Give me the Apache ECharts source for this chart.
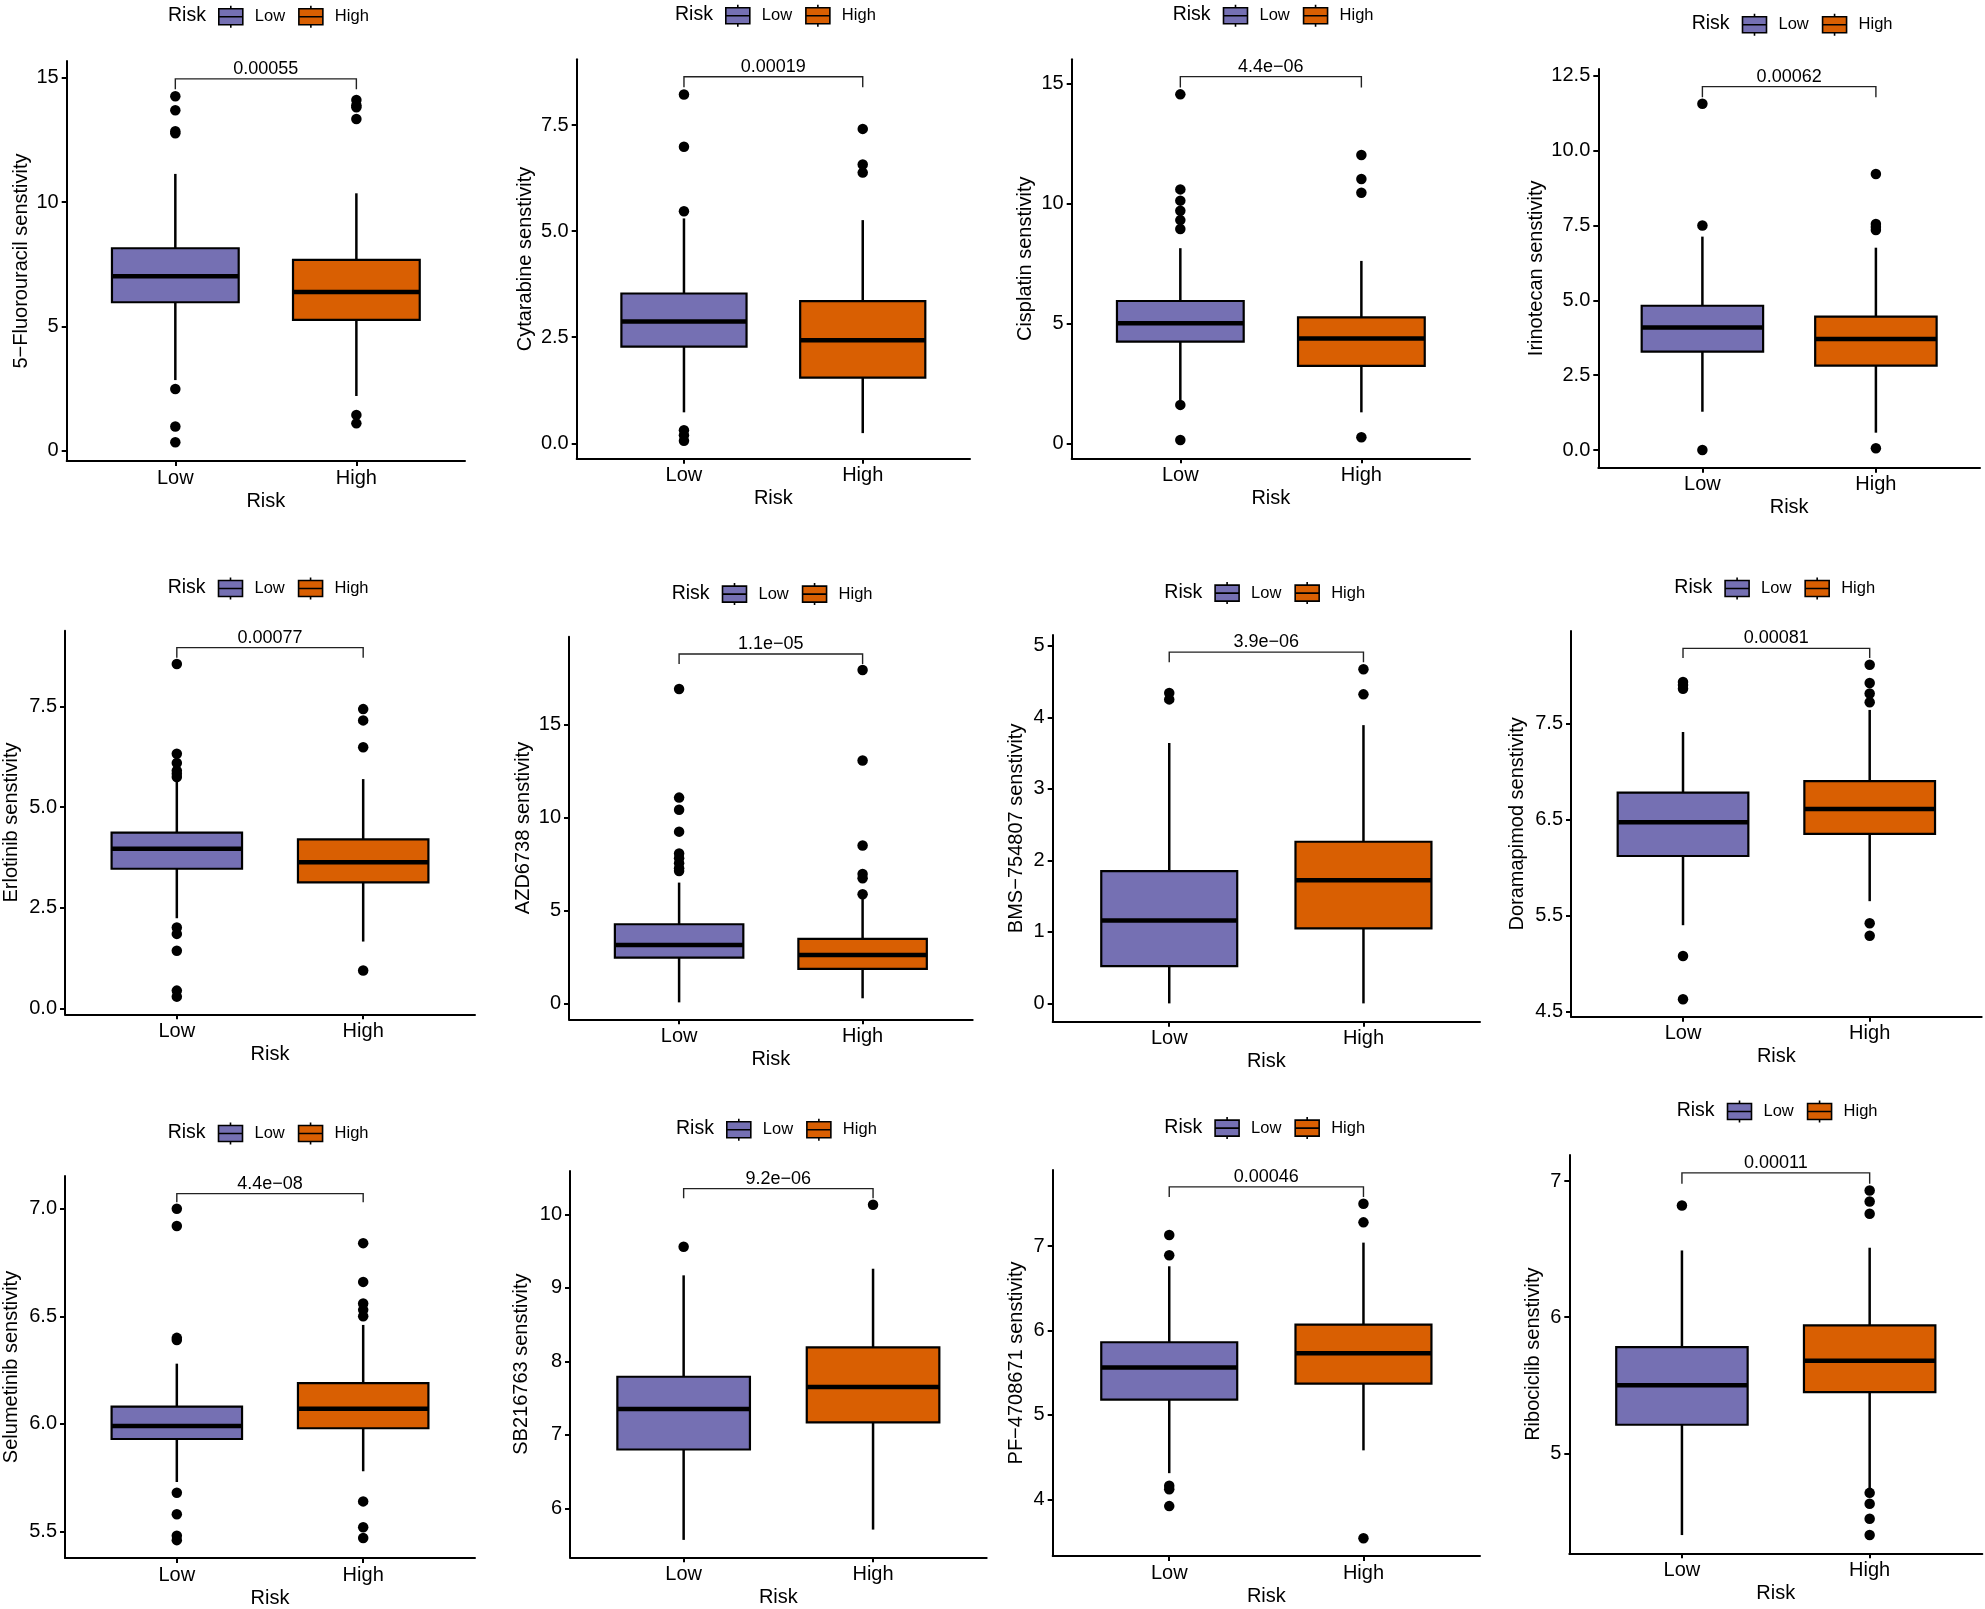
<!DOCTYPE html>
<html>
<head>
<meta charset="utf-8">
<title>Drug sensitivity by risk group</title>
<script src="https://cdn.jsdelivr.net/npm/echarts@6.0.0/dist/echarts.min.js"></script>
<style>
  html, body { margin: 0; padding: 0; background: #fff; }
  #main { width: 1985px; height: 1609px; }
</style>
</head>
<body>
<div id="main"></div>
<script>
// ---- data ----
var riskGroups = ['Low', 'High'];

var drugNames = [
  '5\u2212Fluorouracil senstivity', 'Cytarabine senstivity', 'Cisplatin senstivity', 'Irinotecan senstivity',
  'Erlotinib senstivity', 'AZD6738 senstivity', 'BMS\u2212754807 senstivity', 'Doramapimod senstivity',
  'Selumetinib senstivity', 'SB216763 senstivity', 'PF\u22124708671 senstivity', 'Ribociclib senstivity'
];

var pValues = ['0.00055', '0.00019', '4.4e\u221206', '0.00062', '0.00077', '1.1e\u221205',
  '3.9e\u221206', '0.00081', '4.4e\u221208', '9.2e\u221206', '0.00046', '0.00011'];

// [lower whisker, Q1, median, Q3, upper whisker]
var lowBox = [
  [2.84, 5.97, 7.01, 8.14, 11.13],
  [0.73, 2.28, 2.87, 3.53, 5.30],
  [1.80, 4.24, 5.00, 5.93, 8.13],
  [1.28, 3.29, 4.09, 4.82, 7.13],
  [2.24, 3.47, 3.97, 4.37, 5.64],
  [0.05, 2.46, 3.14, 4.25, 6.49],
  [0.00, 0.52, 1.16, 1.85, 3.64],
  [5.40, 6.12, 6.47, 6.78, 7.41],
  [5.73, 5.93, 5.99, 6.08, 6.28],
  [5.57, 6.80, 7.35, 7.79, 9.17],
  [4.31, 5.18, 5.56, 5.86, 6.76],
  [4.40, 5.21, 5.50, 5.78, 6.49]
];
var highBox = [
  [2.20, 5.26, 6.38, 7.67, 10.35],
  [0.24, 1.55, 2.43, 3.35, 5.26],
  [1.29, 3.23, 4.37, 5.25, 7.60],
  [0.58, 2.82, 3.71, 4.46, 6.76],
  [1.66, 3.13, 3.63, 4.20, 5.70],
  [0.27, 1.85, 2.60, 3.46, 5.82],
  [0.00, 1.05, 1.72, 2.26, 3.89],
  [5.65, 6.35, 6.61, 6.90, 7.64],
  [5.78, 5.98, 6.07, 6.19, 6.46],
  [5.71, 7.17, 7.65, 8.19, 9.26],
  [4.58, 5.37, 5.73, 6.07, 7.04],
  [4.74, 5.45, 5.68, 5.94, 6.51]
];

var lowOutliers = [
  [14.25, 13.69, 12.85, 12.76, 2.48, 0.97, 0.34],
  [8.22, 6.99, 5.47, 0.31, 0.19, 0.06],
  [14.54, 10.58, 10.11, 9.69, 9.30, 8.93, 1.60, 0.14],
  [11.57, 7.50, 0.00],
  [8.56, 6.33, 6.10, 5.91, 5.83, 5.75, 2.01, 1.85, 1.43, 0.44, 0.29],
  [16.90, 11.06, 10.41, 9.23, 8.06, 7.80, 7.53, 7.26, 7.11],
  [4.34, 4.25],
  [7.93, 7.90, 7.86, 5.08, 4.63],
  [7.00, 6.92, 6.40, 6.39, 5.68, 5.58, 5.48, 5.46],
  [9.56],
  [7.13, 6.89, 4.16, 4.12, 3.92],
  [6.82]
];
var highOutliers = [
  [14.10, 13.89, 13.81, 13.34, 1.44, 1.10],
  [7.41, 6.57, 6.38],
  [12.01, 11.01, 10.44, 0.25],
  [9.22, 7.55, 7.45, 7.35, 0.06],
  [7.44, 7.16, 6.49, 0.94],
  [17.92, 13.05, 8.48, 6.95, 6.72, 5.86],
  [4.67, 4.32],
  [8.11, 7.92, 7.81, 7.72, 5.42, 5.29],
  [6.84, 6.66, 6.56, 6.53, 6.50, 5.64, 5.52, 5.47],
  [10.13],
  [7.50, 7.28, 3.54],
  [6.93, 6.85, 6.76, 4.71, 4.63, 4.52, 4.40]
];

// comparison bracket: [bar level, end of the little legs]
var bracketLevels = [
  [14.95, 14.53], [8.64, 8.39], [15.28, 14.83], [12.14, 11.79],
  [8.97, 8.72], [18.78, 18.24], [4.91, 4.77], [8.28, 8.18],
  [7.07, 7.03], [10.35, 10.22], [7.70, 7.58], [7.06, 6.98]
];

var yTickLabels = [
  ['0', '5', '10', '15'],
  ['0.0', '2.5', '5.0', '7.5'],
  ['0', '5', '10', '15'],
  ['0.0', '2.5', '5.0', '7.5', '10.0', '12.5'],
  ['0.0', '2.5', '5.0', '7.5'],
  ['0', '5', '10', '15'],
  ['0', '1', '2', '3', '4', '5'],
  ['4.5', '5.5', '6.5', '7.5'],
  ['5.5', '6.0', '6.5', '7.0'],
  ['6', '7', '8', '9', '10'],
  ['4', '5', '6', '7'],
  ['5', '6', '7']
];

var yRanges = [
  [-0.414, 15.67], [-0.363, 9.05], [-0.625, 16.0], [-0.59, 12.73],
  [-0.149, 9.39], [-0.86, 19.71], [-0.256, 5.15], [4.448, 8.461],
  [5.377, 7.152], [5.333, 10.59], [3.329, 7.90], [4.266, 7.191]
];

// ---- layout (pixels) ----
// plot area: [left, top, right, bottom]
var plotBoxes = [
  [66.7, 61, 465, 461], [576.7, 59.3, 970, 458.7], [1071.7, 59.3, 1470, 458.3], [1598.3, 69, 1980, 467.7],
  [65, 630.7, 475, 1014.3], [569, 636.7, 972.7, 1019.3], [1052.7, 635, 1480, 1021.7], [1571, 631, 1981.7, 1016.7],
  [65, 1176, 475, 1561.7], [570, 1171, 986.7, 1557.3], [1052.7, 1170, 1480, 1556], [1569.3, 1155, 1982.3, 1553.3]
];
var yNameGaps = [45.7, 51.7, 46, 61.7, 53.3, 45.7, 36, 53.7, 53.3, 48.3, 36, 35.6];
// legend: [left of "Risk", vertical centre]
var legendSpots = [
  [168, 16], [675, 15], [1172.7, 15], [1691.7, 24],
  [167.7, 587.7], [671.7, 593.3], [1164.3, 592.3], [1674.3, 587.7],
  [167.7, 1132.7], [676, 1129], [1164.3, 1127.3], [1676.7, 1110.7]
];

var FONT = '"Liberation Sans", Arial, sans-serif';
var INK = '#000';
var colors = { Low: '#7570B3', High: '#D95F02' };
var BOX_WIDTH = 0.7;
var boxIcon = 'path://M0,3L24,3L24,19L0,19Z M0,11L24,11 M12,0L12,3 M12,19L12,22';

function renderBox(params, api) {
  var x = api.value(0);
  var lo = api.coord([x, api.value(1)]);
  var q1 = api.coord([x, api.value(2)]);
  var md = api.coord([x, api.value(3)]);
  var q3 = api.coord([x, api.value(4)]);
  var hi = api.coord([x, api.value(5)]);
  var half = api.size([BOX_WIDTH, 0])[0] / 2;
  var line = { stroke: INK, lineWidth: 2.5 };
  return {
    type: 'group',
    children: [
      { type: 'line', shape: { x1: hi[0], y1: hi[1], x2: q3[0], y2: q3[1] }, style: line },
      { type: 'line', shape: { x1: q1[0], y1: q1[1], x2: lo[0], y2: lo[1] }, style: line },
      { type: 'rect', shape: { x: q3[0] - half, y: q3[1], width: half * 2, height: q1[1] - q3[1] },
        style: { fill: api.visual('color'), stroke: INK, lineWidth: 2.2 } },
      { type: 'line', shape: { x1: md[0] - half, y1: md[1], x2: md[0] + half, y2: md[1] },
        style: { stroke: INK, lineWidth: 4.5 } }
    ]
  };
}

function bracketRenderer(label) {
  return function (params, api) {
    var a = api.coord([api.value(0), api.value(3)]);
    var b = api.coord([api.value(0), api.value(2)]);
    var c = api.coord([api.value(1), api.value(2)]);
    var d = api.coord([api.value(1), api.value(3)]);
    return {
      type: 'group',
      children: [
        { type: 'polyline', shape: { points: [a, b, c, d] },
          style: { stroke: '#222', lineWidth: 1.4, fill: null } },
        { type: 'text', x: (b[0] + c[0]) / 2, y: b[1] - 10,
          style: { text: label, fill: INK, fontSize: 18, fontFamily: FONT, align: 'center', verticalAlign: 'middle' } }
      ]
    };
  };
}

var option = {
  animation: false,
  backgroundColor: '#fff',
  textStyle: { fontFamily: FONT },
  title: [], legend: [], grid: [], xAxis: [], yAxis: [], series: []
};

drugNames.forEach(function (drug, i) {
  var pb = plotBoxes[i];
  var ticks = yTickLabels[i].map(parseFloat);
  var labels = yTickLabels[i];

  option.grid.push({ left: pb[0], top: pb[1], width: pb[2] - pb[0], height: pb[3] - pb[1], containLabel: false });

  option.xAxis.push({
    gridIndex: i, type: 'value', min: 0.4, max: 2.6,
    name: 'Risk', nameLocation: 'middle', nameGap: 40,
    nameTextStyle: { fontSize: 20, color: INK, verticalAlign: 'middle' },
    axisLine: { show: true, onZero: false, lineStyle: { color: INK, width: 2 } },
    axisTick: { show: true, customValues: [1, 2], length: 5, lineStyle: { color: INK, width: 2 } },
    axisLabel: { customValues: [1, 2], fontSize: 20, color: INK, margin: 7,
      formatter: function (v) { return riskGroups[Math.round(v) - 1]; } },
    splitLine: { show: false }
  });

  option.yAxis.push({
    gridIndex: i, type: 'value', min: yRanges[i][0], max: yRanges[i][1],
    name: drug, nameLocation: 'middle', nameGap: yNameGaps[i],
    nameTextStyle: { fontSize: 20, color: INK, verticalAlign: 'middle' },
    axisLine: { show: true, onZero: false, lineStyle: { color: INK, width: 2 } },
    axisTick: { show: true, customValues: ticks, length: 5, lineStyle: { color: INK, width: 2 } },
    axisLabel: { customValues: ticks, fontSize: 20, color: INK, margin: 8,
      formatter: function (v) {
        for (var k = 0; k < ticks.length; k++) if (Math.abs(ticks[k] - v) < 1e-9) return labels[k];
        return v;
      } },
    splitLine: { show: false }
  });

  // legend: "Risk" title + two box keys
  var ls = legendSpots[i];
  option.title.push({
    text: 'Risk', left: ls[0], top: ls[1] - 10, padding: 0,
    textStyle: { fontSize: 19.5, fontWeight: 'normal', color: INK, lineHeight: 20, fontFamily: FONT }
  });
  option.legend.push({
    left: ls[0] + 50, top: ls[1] - 11, padding: 0, orient: 'horizontal',
    itemWidth: 24, itemHeight: 22, itemGap: 13,
    itemStyle: { borderColor: INK, borderWidth: 1.6 },
    textStyle: { fontSize: 16.5, color: INK, rich: { g: { width: 7 } } },
    formatter: function (name) { return '{g|}' + name; },
    data: riskGroups.map(function (g) {
      return { name: g, icon: boxIcon, itemStyle: { color: colors[g] } };
    })
  });

  var boxes = [lowBox[i], highBox[i]];
  riskGroups.forEach(function (g, gi) {
    option.series.push({
      type: 'custom', name: g, xAxisIndex: i, yAxisIndex: i,
      itemStyle: { color: colors[g] },
      encode: { x: 0, y: [1, 2, 3, 4, 5] },
      data: [[gi + 1].concat(boxes[gi])],
      renderItem: renderBox, z: 2
    });
  });

  var dots = lowOutliers[i].map(function (v) { return [1, v]; })
    .concat(highOutliers[i].map(function (v) { return [2, v]; }));
  option.series.push({
    type: 'scatter', name: 'outliers', xAxisIndex: i, yAxisIndex: i,
    symbolSize: 10.5, itemStyle: { color: '#000', opacity: 1 }, data: dots, z: 3, silent: true
  });

  option.series.push({
    type: 'custom', name: 'p', xAxisIndex: i, yAxisIndex: i, silent: true,
    encode: { x: [0, 1], y: [2, 3] },
    data: [[1, 2, bracketLevels[i][0], bracketLevels[i][1]]],
    renderItem: bracketRenderer(pValues[i]), z: 4
  });
});

var chart = echarts.init(document.getElementById('main'));
chart.setOption(option);
</script>
</body>
</html>
